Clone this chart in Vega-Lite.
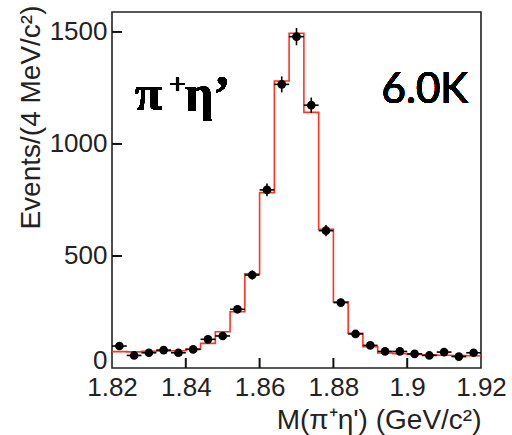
{
  "$schema": "https://vega.github.io/schema/vega-lite/v6.json",
  "autosize": "none",
  "width": 369,
  "height": 356,
  "padding": {"left": 112, "top": 12, "right": 31, "bottom": 67},
  "background": "white",
  "config": {
    "view": {"stroke": "#222222", "strokeWidth": 1.6},
    "axis": {
      "domain": false,
      "grid": false,
      "ticks": false,
      "labelFont": "Liberation Sans",
      "labelFontSize": 26,
      "labelColor": "#222222",
      "labelFlush": false,
      "titleFont": "Liberation Sans",
      "titleFontWeight": "normal",
      "titleFontSize": 28,
      "titleColor": "#222222"
    }
  },
  "datasets": {
    "bins": [
      {"x0": 1.820, "x1": 1.824, "xc": 1.822, "n": 98, "lo": 88.1, "hi": 107.9},
      {"x0": 1.824, "x1": 1.828, "xc": 1.826, "n": 56, "lo": 48.5, "hi": 63.5},
      {"x0": 1.828, "x1": 1.832, "xc": 1.830, "n": 68, "lo": 59.8, "hi": 76.2},
      {"x0": 1.832, "x1": 1.836, "xc": 1.834, "n": 80, "lo": 71.1, "hi": 88.9},
      {"x0": 1.836, "x1": 1.840, "xc": 1.838, "n": 68, "lo": 59.8, "hi": 76.2},
      {"x0": 1.840, "x1": 1.844, "xc": 1.842, "n": 83, "lo": 73.9, "hi": 92.1},
      {"x0": 1.844, "x1": 1.848, "xc": 1.846, "n": 128, "lo": 116.7, "hi": 139.3},
      {"x0": 1.848, "x1": 1.852, "xc": 1.850, "n": 143, "lo": 131.0, "hi": 155.0},
      {"x0": 1.852, "x1": 1.856, "xc": 1.854, "n": 262, "lo": 245.8, "hi": 278.2},
      {"x0": 1.856, "x1": 1.860, "xc": 1.858, "n": 415, "lo": 394.6, "hi": 435.4},
      {"x0": 1.860, "x1": 1.864, "xc": 1.862, "n": 795, "lo": 766.8, "hi": 823.2},
      {"x0": 1.864, "x1": 1.868, "xc": 1.866, "n": 1266, "lo": 1230.4, "hi": 1301.6},
      {"x0": 1.868, "x1": 1.872, "xc": 1.870, "n": 1479, "lo": 1440.5, "hi": 1517.5},
      {"x0": 1.872, "x1": 1.876, "xc": 1.874, "n": 1173, "lo": 1138.8, "hi": 1207.2},
      {"x0": 1.876, "x1": 1.880, "xc": 1.878, "n": 613, "lo": 588.2, "hi": 637.8},
      {"x0": 1.880, "x1": 1.884, "xc": 1.882, "n": 292, "lo": 274.9, "hi": 309.1},
      {"x0": 1.884, "x1": 1.888, "xc": 1.886, "n": 152, "lo": 139.7, "hi": 164.3},
      {"x0": 1.888, "x1": 1.892, "xc": 1.890, "n": 101, "lo": 91.0, "hi": 111.0},
      {"x0": 1.892, "x1": 1.896, "xc": 1.894, "n": 74, "lo": 65.4, "hi": 82.6},
      {"x0": 1.896, "x1": 1.900, "xc": 1.898, "n": 74, "lo": 65.4, "hi": 82.6},
      {"x0": 1.900, "x1": 1.904, "xc": 1.902, "n": 63, "lo": 55.1, "hi": 70.9},
      {"x0": 1.904, "x1": 1.908, "xc": 1.906, "n": 56, "lo": 48.5, "hi": 63.5},
      {"x0": 1.908, "x1": 1.912, "xc": 1.910, "n": 71, "lo": 62.6, "hi": 79.4},
      {"x0": 1.912, "x1": 1.916, "xc": 1.914, "n": 51, "lo": 43.9, "hi": 58.1},
      {"x0": 1.916, "x1": 1.920, "xc": 1.918, "n": 68, "lo": 59.8, "hi": 76.2}
    ],
    "hist": [
      {"edge": 1.820, "h": 73},
      {"edge": 1.824, "h": 72},
      {"edge": 1.828, "h": 74},
      {"edge": 1.832, "h": 76},
      {"edge": 1.836, "h": 77},
      {"edge": 1.840, "h": 85},
      {"edge": 1.844, "h": 110},
      {"edge": 1.848, "h": 162},
      {"edge": 1.852, "h": 251},
      {"edge": 1.856, "h": 420},
      {"edge": 1.860, "h": 783},
      {"edge": 1.864, "h": 1281},
      {"edge": 1.868, "h": 1494},
      {"edge": 1.872, "h": 1141},
      {"edge": 1.876, "h": 619},
      {"edge": 1.880, "h": 296},
      {"edge": 1.884, "h": 155},
      {"edge": 1.888, "h": 95},
      {"edge": 1.892, "h": 67},
      {"edge": 1.896, "h": 64},
      {"edge": 1.900, "h": 61},
      {"edge": 1.904, "h": 59},
      {"edge": 1.908, "h": 57},
      {"edge": 1.912, "h": 56},
      {"edge": 1.916, "h": 55},
      {"edge": 1.920, "h": 55}
    ],
    "xticks": [{"t": 1.84}, {"t": 1.86}, {"t": 1.88}, {"t": 1.9}],
    "yticks": [{"t": 500}, {"t": 1000}, {"t": 1500}]
  },
  "data": {"name": "bins"},
  "layer": [
    {
      "data": {"name": "hist"},
      "mark": {"type": "line", "interpolate": "step-after", "color": "#ff3322", "strokeWidth": 1.6, "clip": true},
      "encoding": {
        "x": {
          "field": "edge", "type": "quantitative",
          "scale": {"domain": [1.82, 1.92], "nice": false, "zero": false},
          "axis": {
            "values": [1.82, 1.84, 1.86, 1.88, 1.9, 1.92],
            "format": "~g",
            "labelPadding": 6,
            "titleAnchor": "end",
            "titlePadding": 6
          },
          "title": "M(π⁺η') (GeV/c²)"
        },
        "y": {
          "field": "h", "type": "quantitative",
          "scale": {"domain": [0, 1589], "nice": false},
          "axis": {
            "values": [0, 500, 1000, 1500],
            "format": "d",
            "labelPadding": 5,
            "labelBaseline": {"condition": {"test": "datum.value === 0", "value": "alphabetic"}, "value": "middle"},
            "titleAnchor": "end",
            "titleY": -7,
            "titlePadding": 4
          },
          "title": "Events/(4 MeV/c²)"
        }
      }
    },
    {
      "data": {"name": "xticks"},
      "mark": {"type": "rule", "color": "#111111", "strokeWidth": 2},
      "encoding": {
        "x": {"field": "t", "type": "quantitative", "title": "M(π⁺η') (GeV/c²)"},
        "y": {"datum": 0, "type": "quantitative", "title": "Events/(4 MeV/c²)"},
        "y2": {"datum": 44.6}
      }
    },
    {
      "data": {"name": "yticks"},
      "mark": {"type": "rule", "color": "#111111", "strokeWidth": 2},
      "encoding": {
        "y": {"field": "t", "type": "quantitative", "title": "Events/(4 MeV/c²)"},
        "x": {"datum": 1.82, "type": "quantitative", "title": "M(π⁺η') (GeV/c²)"},
        "x2": {"datum": 1.8227}
      }
    },
    {
      "mark": {"type": "rule", "color": "#000000", "strokeWidth": 1.6},
      "encoding": {
        "x": {"field": "x0", "type": "quantitative", "title": "M(π⁺η') (GeV/c²)"},
        "x2": {"field": "x1"},
        "y": {"field": "n", "type": "quantitative", "title": "Events/(4 MeV/c²)"}
      }
    },
    {
      "mark": {"type": "rule", "color": "#000000", "strokeWidth": 1.6},
      "encoding": {
        "x": {"field": "xc", "type": "quantitative", "title": "M(π⁺η') (GeV/c²)"},
        "y": {"field": "lo", "type": "quantitative", "title": "Events/(4 MeV/c²)"},
        "y2": {"field": "hi"}
      }
    },
    {
      "mark": {"type": "point", "filled": true, "color": "#000000", "opacity": 1, "size": 75},
      "encoding": {
        "x": {"field": "xc", "type": "quantitative", "title": "M(π⁺η') (GeV/c²)"},
        "y": {"field": "n", "type": "quantitative", "title": "Events/(4 MeV/c²)"}
      }
    },
    {
      "mark": {"type": "text", "font": "Liberation Serif", "fontWeight": "bold", "fontSize": 50, "align": "left", "baseline": "alphabetic", "color": "#000000"},
      "encoding": {
        "x": {"datum": 1.8262, "type": "quantitative", "title": "M(π⁺η') (GeV/c²)"},
        "y": {"datum": 1152, "type": "quantitative", "title": "Events/(4 MeV/c²)"},
        "text": {"value": "π"}
      }
    },
    {
      "mark": {"type": "text", "font": "Liberation Sans", "fontSize": 28, "align": "center", "baseline": "middle", "color": "#000000"},
      "encoding": {
        "x": {"datum": 1.8377, "type": "quantitative", "title": "M(π⁺η') (GeV/c²)"},
        "y": {"datum": 1261, "type": "quantitative", "title": "Events/(4 MeV/c²)"},
        "text": {"value": "+"}
      }
    },
    {
      "mark": {"type": "text", "font": "Liberation Serif", "fontWeight": "bold", "fontSize": 50, "align": "left", "baseline": "alphabetic", "color": "#000000"},
      "encoding": {
        "x": {"datum": 1.8398, "type": "quantitative", "title": "M(π⁺η') (GeV/c²)"},
        "y": {"datum": 1152, "type": "quantitative", "title": "Events/(4 MeV/c²)"},
        "text": {"value": "η’"}
      }
    },
    {
      "mark": {"type": "text", "font": "Lato", "fontSize": 42, "align": "right", "baseline": "alphabetic", "color": "#000000"},
      "encoding": {
        "x": {"datum": 1.9165, "type": "quantitative", "title": "M(π⁺η') (GeV/c²)"},
        "y": {"datum": 1183, "type": "quantitative", "title": "Events/(4 MeV/c²)"},
        "text": {"value": "6.0K"}
      }
    }
  ]
}
